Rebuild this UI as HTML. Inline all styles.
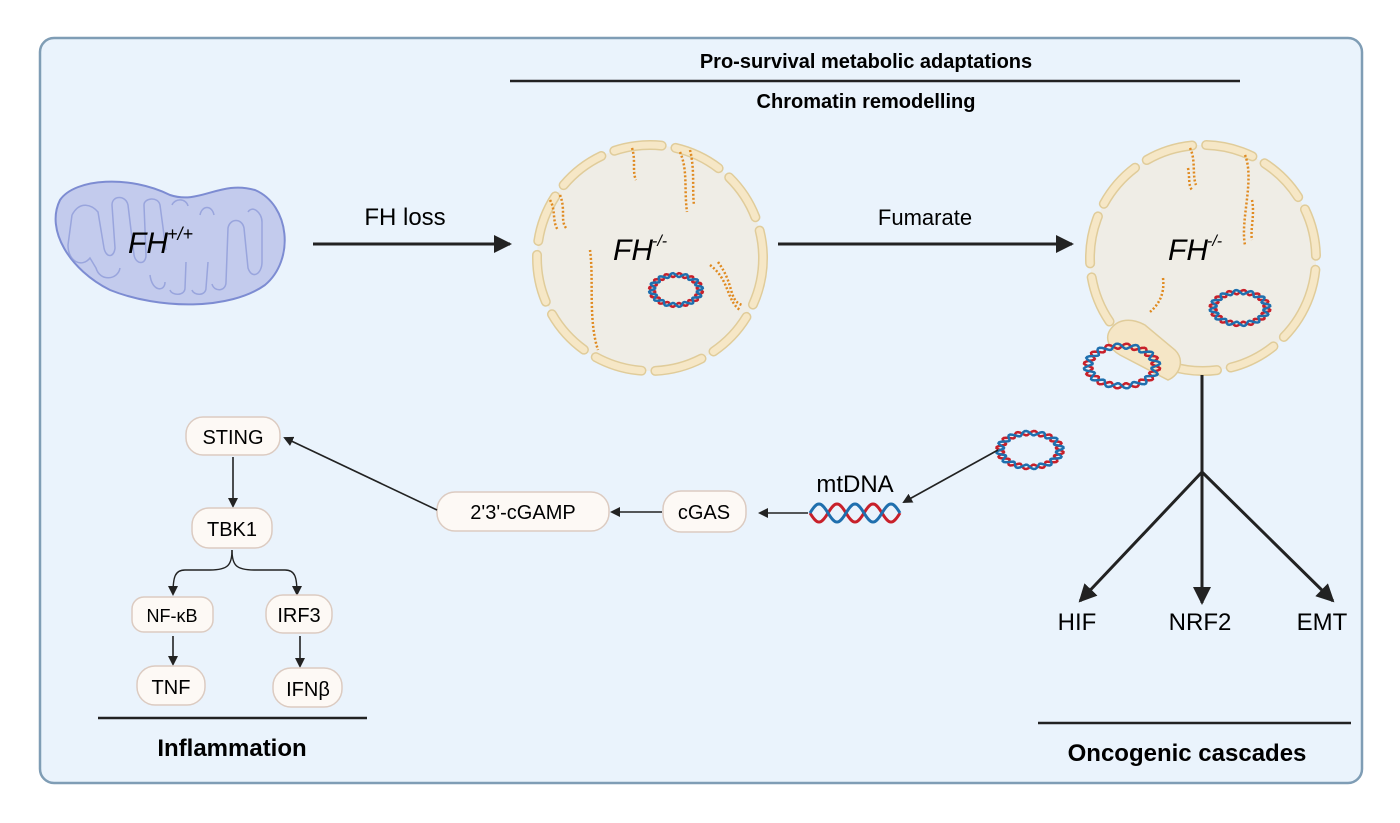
<!DOCTYPE html>
<html><head><meta charset="utf-8"><style>
html,body{margin:0;padding:0;background:#fff;}
svg{display:block;font-family:"Liberation Sans",sans-serif;}
</style></head><body>
<svg id="s" width="1400" height="823" viewBox="0 0 1400 823" xmlns="http://www.w3.org/2000/svg">
<defs>
<marker id="ah" markerWidth="10" markerHeight="10" refX="8" refY="5" orient="auto" markerUnits="userSpaceOnUse"><path d="M0,0 L10,5 L0,10 z" fill="#222"/></marker>
<marker id="ahb" markerWidth="20" markerHeight="18" refX="16" refY="9" orient="auto" markerUnits="userSpaceOnUse"><path d="M0,0 L18,9 L0,18 z" fill="#222"/></marker>
</defs>
<rect x="40" y="38" width="1322" height="745" rx="14" fill="#eaf3fc" stroke="#7f9db5" stroke-width="2.5"/>
<text x="866" y="68" font-size="20" font-weight="bold" text-anchor="middle">Pro-survival metabolic adaptations</text>
<line x1="510" y1="81" x2="1240" y2="81" stroke="#222" stroke-width="2.5"/>
<text x="866" y="108" font-size="20" font-weight="bold" text-anchor="middle">Chromatin remodelling</text>

<!-- mitochondrion -->
<path d="M60,200 C75,178 130,175 170,195 C200,205 220,180 255,190 C290,205 295,260 265,285 C230,310 160,310 110,290 C70,270 45,230 60,200 Z" fill="#c3cbed" stroke="#7d8cd2" stroke-width="2"/>
<path d="M72,215 C80,200 92,205 98,212 L104,248 C106,258 114,258 115,248 L112,205 C112,195 126,195 128,205 L134,255 M134,255 C136,265 146,265 146,255 L144,205 C144,198 158,196 160,205 L166,250 M150,275 C152,292 165,292 165,282 M170,290 C172,296 185,296 185,288 L186,262 M192,290 C194,296 206,296 206,288 L208,262 M212,284 C214,292 226,292 226,282 L228,228 C230,218 242,218 244,228 L248,268 C252,280 262,274 262,262 L262,222 C262,212 252,205 248,212 M200,215 C202,205 212,205 214,215 M172,205 C175,198 186,198 188,206 M72,215 L68,245 C68,262 82,268 90,258 L96,268 C100,282 118,280 120,268" fill="none" stroke="#8e9bd8" stroke-width="1.5" opacity="0.8"/>
<text x="128" y="253" font-size="30" font-style="italic">FH</text>
<text x="167" y="240" font-size="18" font-style="italic">+/+</text>

<!-- FH loss arrow -->
<text x="405" y="225" font-size="24" text-anchor="middle">FH loss</text>
<line x1="313" y1="244" x2="510" y2="244" stroke="#222" stroke-width="3" marker-end="url(#ahb)"/>

<!-- cell 1 -->
<circle cx="650" cy="258" r="113" fill="#efede6"/>
<circle cx="650" cy="258" r="113" fill="none" stroke="#e0cc9a" stroke-width="10" stroke-linecap="round" stroke-dasharray="48 14"/>
<circle cx="650" cy="258" r="113" fill="none" stroke="#f6e7c6" stroke-width="7" stroke-linecap="round" stroke-dasharray="48 14"/>
<g fill="none" stroke="#e08a20" stroke-width="2.5" stroke-dasharray="2 2">
<path d="M680,152 C688,170 684,190 687,212"/><path d="M690,150 C695,170 692,190 694,205"/>
<path d="M632,148 C636,160 632,172 636,180"/>
<path d="M550,200 C556,210 552,222 558,230"/><path d="M560,195 C566,210 560,220 566,228"/>
<path d="M590,250 C594,280 588,320 598,350"/>
<path d="M710,265 C730,280 726,300 740,310"/><path d="M718,262 C735,285 728,300 742,305"/>
</g>
<text x="613" y="260" font-size="30" font-style="italic">FH</text>
<text x="652" y="246" font-size="16" font-style="italic">-/-</text>
<g id="d1" transform="translate(676,290)"></g>

<!-- Fumarate arrow -->
<text x="925" y="225" font-size="22" text-anchor="middle">Fumarate</text>
<line x1="778" y1="244" x2="1072" y2="244" stroke="#222" stroke-width="3" marker-end="url(#ahb)"/>

<!-- cell 2 -->
<circle cx="1203" cy="258" r="113" fill="#efede6"/>
<circle cx="1203" cy="258" r="113" fill="none" stroke="#e0cc9a" stroke-width="10" stroke-linecap="round" stroke-dasharray="48 14" transform="rotate(20 1203 258)"/>
<circle cx="1203" cy="258" r="113" fill="none" stroke="#f6e7c6" stroke-width="7" stroke-linecap="round" stroke-dasharray="48 14" transform="rotate(20 1203 258)"/>
<g fill="none" stroke="#e08a20" stroke-width="2.5" stroke-dasharray="2 2">
<path d="M1190,148 C1196,160 1192,175 1196,185"/><path d="M1188,168 C1190,178 1188,185 1192,190"/>
<path d="M1245,155 C1255,180 1240,220 1245,245"/><path d="M1252,200 C1255,215 1250,230 1252,240"/>
<path d="M1163,278 C1165,295 1158,305 1150,312"/>
</g>
<path d="M1110,330 C1118,318 1132,318 1145,325 L1175,350 C1185,360 1180,375 1168,380 L1120,355 C1108,348 1105,338 1110,330 Z" fill="#f5e6c6" stroke="#e0cc9a" stroke-width="1.5"/>
<text x="1168" y="260" font-size="30" font-style="italic">FH</text>
<text x="1207" y="246" font-size="16" font-style="italic">-/-</text>
<g id="d2" transform="translate(1240,308)"></g>
<g id="d3" transform="translate(1122,366)"></g>
<g id="d4" transform="translate(1030,450)"></g>

<!-- oncogenic branches -->
<line x1="1202" y1="375" x2="1202" y2="474" stroke="#222" stroke-width="3"/>
<line x1="1202" y1="472" x2="1080" y2="601" stroke="#222" stroke-width="3" marker-end="url(#ahb)"/>
<line x1="1202" y1="472" x2="1202" y2="603" stroke="#222" stroke-width="3" marker-end="url(#ahb)"/>
<line x1="1202" y1="472" x2="1333" y2="601" stroke="#222" stroke-width="3" marker-end="url(#ahb)"/>
<text x="1077" y="630" font-size="24" text-anchor="middle">HIF</text>
<text x="1200" y="630" font-size="24" text-anchor="middle">NRF2</text>
<text x="1322" y="630" font-size="24" text-anchor="middle">EMT</text>
<line x1="1038" y1="723" x2="1351" y2="723" stroke="#222" stroke-width="2.5"/>
<text x="1187" y="761" font-size="24" font-weight="bold" text-anchor="middle">Oncogenic cascades</text>

<!-- mtDNA -->
<line x1="998" y1="450" x2="904" y2="502" stroke="#222" stroke-width="1.6" marker-end="url(#ah)"/>
<text x="855" y="492" font-size="24" text-anchor="middle">mtDNA</text>
<g id="helix"></g>
<line x1="808" y1="513" x2="760" y2="513" stroke="#222" stroke-width="1.6" marker-end="url(#ah)"/>

<g font-size="20" text-anchor="middle">
<rect x="663" y="491" width="83" height="41" rx="18" fill="#fdf9f5" stroke="#dccbc1" stroke-width="1.5"/>
<text x="704" y="519">cGAS</text>
<line x1="662" y1="512" x2="612" y2="512" stroke="#222" stroke-width="1.6" marker-end="url(#ah)"/>
<rect x="437" y="492" width="172" height="39" rx="18" fill="#fdf9f5" stroke="#dccbc1" stroke-width="1.5"/>
<text x="523" y="519">2'3'-cGAMP</text>
<line x1="437" y1="510" x2="285" y2="438" stroke="#222" stroke-width="1.6" marker-end="url(#ah)"/>
<rect x="186" y="417" width="94" height="38" rx="17" fill="#fdf9f5" stroke="#dccbc1" stroke-width="1.5"/>
<text x="233" y="444">STING</text>
<line x1="233" y1="457" x2="233" y2="506" stroke="#222" stroke-width="1.6" marker-end="url(#ah)"/>
<rect x="192" y="508" width="80" height="40" rx="17" fill="#fdf9f5" stroke="#dccbc1" stroke-width="1.5"/>
<text x="232" y="536">TBK1</text>
<path d="M232,550 C232,565 228,570 210,570 L185,570 C175,570 173,577 173,594" fill="none" stroke="#222" stroke-width="1.4" marker-end="url(#ah)"/>
<path d="M232,550 C232,565 236,570 254,570 L285,570 C295,570 297,577 297,594" fill="none" stroke="#222" stroke-width="1.4" marker-end="url(#ah)"/>
<rect x="132" y="597" width="81" height="35" rx="12" fill="#fdf9f5" stroke="#dccbc1" stroke-width="1.5"/>
<text x="172" y="622" font-size="18">NF-κB</text>
<rect x="266" y="595" width="66" height="38" rx="17" fill="#fdf9f5" stroke="#dccbc1" stroke-width="1.5"/>
<text x="299" y="622">IRF3</text>
<line x1="173" y1="636" x2="173" y2="664" stroke="#222" stroke-width="1.6" marker-end="url(#ah)"/>
<line x1="300" y1="636" x2="300" y2="666" stroke="#222" stroke-width="1.6" marker-end="url(#ah)"/>
<rect x="137" y="666" width="68" height="39" rx="18" fill="#fdf9f5" stroke="#dccbc1" stroke-width="1.5"/>
<text x="171" y="694">TNF</text>
<rect x="273" y="668" width="69" height="39" rx="18" fill="#fdf9f5" stroke="#dccbc1" stroke-width="1.5"/>
<text x="308" y="696">IFNβ</text>
</g>
<line x1="98" y1="718" x2="367" y2="718" stroke="#222" stroke-width="2.5"/>
<text x="232" y="756" font-size="24" font-weight="bold" text-anchor="middle">Inflammation</text>
</svg>
<script>
function circ(id,rx,ry){
  var g=document.getElementById(id),ns="http://www.w3.org/2000/svg";
  [[0,"#c8202a"],[Math.PI,"#1f6fae"]].forEach(function(p){
    var d="";for(var i=0;i<=120;i++){var t=i/120*2*Math.PI;var w=1+0.13*Math.sin(t*12+p[0]);
    var x=rx*w*Math.cos(t),y=ry*w*Math.sin(t);d+=(i?"L":"M")+x.toFixed(1)+","+y.toFixed(1);}
    var e=document.createElementNS(ns,"path");e.setAttribute("d",d);e.setAttribute("fill","none");
    e.setAttribute("stroke",p[1]);e.setAttribute("stroke-width","2.5");g.appendChild(e);});
}
circ("d1",24,15);circ("d2",27,16);circ("d3",34,20);circ("d4",30,17);
(function(){var g=document.getElementById("helix"),ns="http://www.w3.org/2000/svg";
 [[0,"#c8202a"],[Math.PI,"#1f6fae"]].forEach(function(p){var d="";
 for(var i=0;i<=90;i++){var x=810+i;var y=513+9*Math.sin(i/90*Math.PI*5+p[0]);d+=(i?"L":"M")+x+","+y.toFixed(1);}
 var e=document.createElementNS(ns,"path");e.setAttribute("d",d);e.setAttribute("fill","none");
 e.setAttribute("stroke",p[1]);e.setAttribute("stroke-width","3");g.appendChild(e);});})();
</script>
</body></html>
